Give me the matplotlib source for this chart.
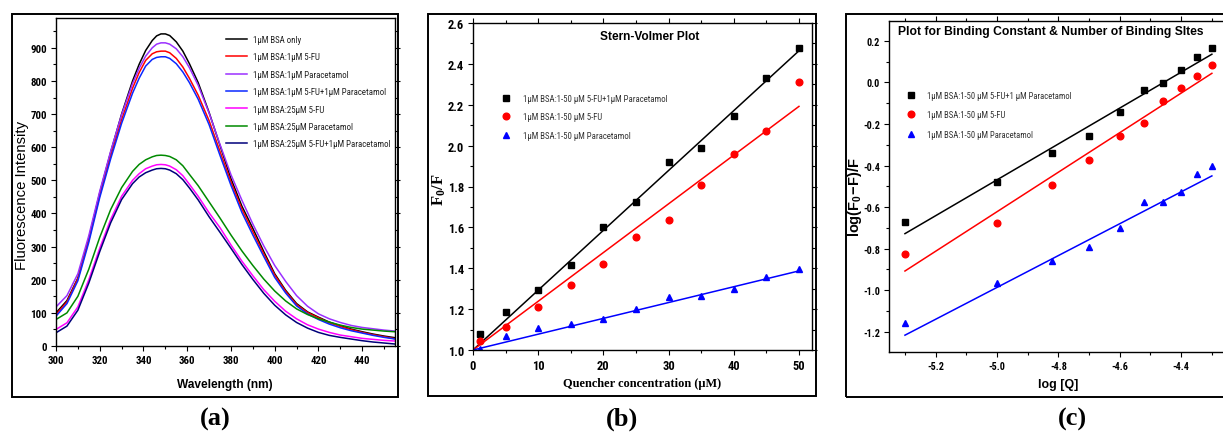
import matplotlib
matplotlib.use("Agg")
import matplotlib.pyplot as plt
from matplotlib.patches import Rectangle
from matplotlib.ticker import MultipleLocator, FormatStrFormatter
import matplotlib.font_manager as fm

# ---------------- DATA ----------------
# Panel (a): fluorescence emission spectra
wavelength = [300, 305, 310, 315, 320, 325, 330, 335, 338, 341, 344, 346, 348, 350,
              352, 355, 358, 361, 365, 370, 375, 380, 385, 390, 395, 400, 405, 410,
              415, 420, 425, 430, 435, 440, 445, 450, 455]
bsa_only = [100, 137, 205, 325, 462, 585, 700, 800, 850, 892, 922, 936, 942, 942,
            937, 918, 890, 852, 795, 705, 605, 505, 422, 355, 285, 218, 168, 128,
            103, 87, 72, 61, 51, 43, 36, 30, 25]
bsa_5fu_1 = [95, 133, 203, 320, 455, 573, 683, 778, 825, 862, 882, 888, 890, 890,
             885, 868, 842, 808, 757, 680, 587, 495, 413, 345, 278, 214, 165, 125,
             101, 85, 70, 59, 49, 41, 34, 28, 22]
bsa_para_1 = [118, 152, 218, 333, 467, 588, 698, 792, 838, 875, 900, 911, 915, 915,
              911, 897, 873, 840, 787, 703, 608, 517, 440, 368, 302, 243, 195, 152,
              120, 97, 82, 71, 62, 56, 52, 48, 45]
bsa_5fu_para_1 = [90, 128, 197, 313, 448, 565, 672, 763, 808, 845, 865, 871, 873, 873,
                  868, 852, 827, 795, 745, 668, 575, 485, 403, 335, 270, 207, 160, 121,
                  97, 80, 66, 55, 46, 39, 32, 26, 21]
bsa_5fu_25 = [50, 70, 118, 200, 295, 382, 452, 500, 520, 535, 543, 547, 548, 547,
              543, 532, 514, 488, 452, 402, 357, 305, 256, 212, 170, 135, 105, 82,
              64, 51, 41, 33, 28, 23, 20, 17, 15]
bsa_para_25 = [80, 100, 150, 232, 328, 412, 478, 527, 548, 562, 571, 575, 576, 575,
               572, 562, 544, 518, 484, 435, 386, 335, 287, 243, 202, 166, 136, 112,
               95, 82, 72, 63, 56, 51, 48, 45, 43]
bsa_5fu25_para1 = [40, 60, 108, 190, 285, 372, 442, 490, 510, 523, 531, 535, 536, 535,
                   531, 520, 502, 477, 441, 390, 343, 295, 246, 201, 159, 123, 94, 71,
                   54, 41, 32, 26, 21, 16, 12, 9, 6]
spectra_labels = ["1μM BSA only", "1μM BSA:1μM 5-FU", "1μM BSA:1μM Paracetamol",
                  "1μM BSA:1μM 5-FU+1μM Paracetamol", "1μM BSA:25μM 5-FU",
                  "1μM BSA:25μM Paracetamol", "1μM BSA:25μM 5-FU+1μM Paracetamol"]

# Panel (b): Stern-Volmer
quencher = [1, 5, 10, 15, 20, 25, 30, 35, 40, 45, 50]
sv_combo = [1.077, 1.186, 1.294, 1.416, 1.602, 1.725, 1.922, 1.988, 2.146, 2.329, 2.476]
sv_5fu = [1.044, 1.114, 1.209, 1.317, 1.423, 1.552, 1.637, 1.808, 1.958, 2.074, 2.309]
sv_para = [1.006, 1.069, 1.109, 1.126, 1.150, 1.199, 1.261, 1.264, 1.297, 1.359, 1.395]
sv_fit_x = [0, 50]
sv_fit_combo = [1.0, 2.464]
sv_fit_5fu = [1.0, 2.192]
sv_fit_para = [1.0, 1.387]
sv_labels = ["1μM BSA:1-50 μM 5-FU+1μM Paracetamol", "1μM BSA:1-50 μM 5-FU",
             "1μM BSA:1-50 μM Paracetamol"]

# Panel (c): double log plot
logq = [-5.30, -5.00, -4.82, -4.70, -4.60, -4.52, -4.46, -4.40, -4.35, -4.30]
dl_combo = [-0.673, -0.479, -0.338, -0.256, -0.140, -0.034, -0.004, 0.060, 0.123, 0.168]
dl_5fu = [-0.826, -0.675, -0.495, -0.371, -0.256, -0.195, -0.091, -0.026, 0.031, 0.086]
dl_para = [-1.156, -0.967, -0.861, -0.790, -0.700, -0.578, -0.575, -0.526, -0.440, -0.402]
dl_fit_x = [-5.30, -4.30]
dl_fit_combo = [-0.728, 0.136]
dl_fit_5fu = [-0.908, 0.044]
dl_fit_para = [-1.217, -0.450]
dl_labels = ["1μM BSA:1-50 μM 5-FU+1 μM Paracetamol", "1μM BSA:1-50 μM 5-FU",
             "1μM BSA:1-50 μM Paracetamol"]

# ---------------- FONTS ----------------
def find_narrow(bold):
    prefs = ["robotocondensed", "liberationsansnarrow", "notosanscondensed",
             "opensanscondensed", "opensans_condensed", "dejavusanscondensed",
             "condensed", "narrow"]
    files = [f.fname for f in fm.fontManager.ttflist]
    bad = ("italic", "oblique", "light", "thin", "medium", "semi", "extra", "black")
    for p in prefs:
        for fn in files:
            low = fn.lower().replace(" ", "").split("/")[-1]
            if p in low and not any(b in low for b in bad):
                isb = "bold" in low
                if bold == isb:
                    return fn
    return None


NB_FILE = find_narrow(True)
NR_FILE = find_narrow(False)


def fp_narrow(size, bold=False):
    fn = NB_FILE if bold else NR_FILE
    if fn:
        return fm.FontProperties(fname=fn, size=size)
    return fm.FontProperties(family="Liberation Sans", size=size,
                             weight="bold" if bold else "normal")


plt.rcParams["axes.unicode_minus"] = False
plt.rcParams["mathtext.fontset"] = "custom"
plt.rcParams["mathtext.bf"] = "Liberation Serif:bold"
plt.rcParams["mathtext.rm"] = "Liberation Serif"
plt.rcParams["mathtext.sf"] = "Liberation Sans:bold"

W, H = 1223, 435
fig = plt.figure(figsize=(W / 100, H / 100), dpi=100)
REND = fig.canvas.get_renderer()


def fx(x):
    return x / W


def fy(y):
    return 1 - y / H


def text_extent(s, fp):
    t = fig.text(0.5, 0.5, s, fontproperties=fp)
    e = t.get_window_extent(REND)
    t.remove()
    return e.width, e.height


def fit_size(s, target_w, fpfunc, lo=4.0, hi=30.0):
    w10, _ = text_extent(s, fpfunc(10.0))
    return max(lo, min(hi, 10.0 * target_w / w10))


def plain_fp(family, weight="normal"):
    return lambda size: fm.FontProperties(family=family, weight=weight, size=size)


def add_ax(l, t, r, b):
    return fig.add_axes([fx(l), fy(b), (r - l) / W, (b - t) / H])


def frame(l, t, r, b):
    fig.add_artist(Rectangle((fx(l), fy(b)), (r - l) / W, (b - t) / H,
                             transform=fig.transFigure, fill=False,
                             lw=1.4, ec="black", clip_on=False))


def style_axes(ax, xmaj, xmin, ymaj, ymin, fmt=None, top=True):
    ax.xaxis.set_major_locator(MultipleLocator(xmaj))
    ax.xaxis.set_minor_locator(MultipleLocator(xmin))
    ax.yaxis.set_major_locator(MultipleLocator(ymaj))
    ax.yaxis.set_minor_locator(MultipleLocator(ymin))
    if fmt:
        ax.xaxis.set_major_formatter(FormatStrFormatter(fmt[0]))
        ax.yaxis.set_major_formatter(FormatStrFormatter(fmt[1]))
    ax.tick_params(which="both", direction="out", top=top, right=True,
                   width=0.8, pad=3)
    ax.tick_params(which="major", length=3.5)
    ax.tick_params(which="minor", length=2)
    for s in ax.spines.values():
        s.set_linewidth(1.0)


def finish_ticks(ax, sample, target_w):
    size = fit_size(sample, target_w, lambda s: fp_narrow(s, True))
    size = min(size, 9)
    fp = fp_narrow(size, bold=True)
    for lab in ax.get_xticklabels() + ax.get_yticklabels():
        lab.set_fontproperties(fp)


def place_labels(ax, xlab_xy, ylab_xy):
    ax.xaxis.set_label_coords(fx(xlab_xy[0]), fy(xlab_xy[1]), transform=fig.transFigure)
    ax.yaxis.set_label_coords(fx(ylab_xy[0]), fy(ylab_xy[1]), transform=fig.transFigure)
    ax.xaxis.label.set_va("center")
    ax.yaxis.label.set_va("center")


def make_legend(ax, handles, labels, first_y, hand_x0, text_x, pitch, long_label,
                long_w, handlelength, color):
    size = fit_size(long_label, long_w, lambda s: fp_narrow(s))
    fp = fp_narrow(size)
    fs_px = size * 100 / 72
    _, th = text_extent("1μM BSA:", fp)
    hl_px = handlelength * fs_px
    leg = ax.legend(handles, labels, loc="upper left",
                    bbox_to_anchor=(fx(hand_x0), fy(first_y - th / 2)),
                    bbox_transform=fig.transFigure, frameon=False, borderpad=0,
                    borderaxespad=0, handlelength=handlelength,
                    handletextpad=(text_x - hand_x0 - hl_px) / fs_px,
                    labelspacing=max(0.0, (pitch - th) / fs_px), numpoints=1,
                    prop=fp)
    for t in leg.get_texts():
        t.set_color(color)
    return leg


# ---------------- PANEL (a) ----------------
frame(12, 15, 398, 398)
axa = add_ax(56, 19, 395, 347)
cols_a = ["#000000", "#ff0000", "#9b30ff", "#0a28ff", "#ff00ff", "#008a00", "#00007a"]
series_a = [bsa_only, bsa_5fu_1, bsa_para_1, bsa_5fu_para_1, bsa_5fu_25,
            bsa_para_25, bsa_5fu25_para1]
handles_a = []
for ys, c, lab in zip(series_a, cols_a, spectra_labels):
    h, = axa.plot(wavelength, ys, color=c, lw=1.1, label=lab)
    handles_a.append(h)
axa.set_xlim(300, 455)
axa.set_ylim(0, 990)
style_axes(axa, 20, 10, 100, 50, top=False)
axa.set_xlabel("Wavelength (nm)",
               fontsize=fit_size("Wavelength (nm)", 96, plain_fp("Liberation Sans", "bold")),
               fontweight="bold", family="Liberation Sans")
axa.set_ylabel("Fluorescence Intensity",
               fontsize=fit_size("Fluorescence Intensity", 150, plain_fp("Liberation Sans")),
               family="Liberation Sans")
place_labels(axa, (225, 385), (22, 195))
make_legend(axa, handles_a, spectra_labels, 40.5, 226, 253, 17.4,
            spectra_labels[-1], 139, 2.4, "#222222")
finish_ticks(axa, "900", 16.5)

# ---------------- PANEL (b) ----------------
frame(428, 15, 816, 397)
axb = add_ax(473, 24, 812, 351)
axb.plot(sv_fit_x, sv_fit_combo, color="black", lw=1.1)
axb.plot(sv_fit_x, sv_fit_5fu, color="#ff0000", lw=1.1)
axb.plot(sv_fit_x, sv_fit_para, color="#0000ff", lw=1.1)
hb1, = axb.plot(quencher, sv_combo, "s", color="black", ms=4.5, ls="none")
hb2, = axb.plot(quencher, sv_5fu, "o", color="#ff0000", ms=4.8, ls="none")
hb3, = axb.plot(quencher, sv_para, "^", color="#0000ff", ms=5, ls="none")
axb.set_xlim(0, 52)
axb.set_ylim(1.0, 2.6)
style_axes(axb, 10, 5, 0.2, 0.1, fmt=("%d", "%.1f"))
qlab = "Quencher concentration (μM)"
axb.set_xlabel(qlab, fontsize=fit_size(qlab, 159, plain_fp("Liberation Serif", "bold")),
               fontweight="bold", family="Liberation Serif")
axb.set_ylabel(r"$\mathbf{F_0/F}$", fontsize=12)
place_labels(axb, (642, 384), (439, 190))
svt = "Stern-Volmer Plot"
axb.text(fx(650), fy(37), svt, transform=fig.transFigure, ha="center", va="center",
         fontsize=fit_size(svt, 100, plain_fp("Liberation Sans", "bold")),
         fontweight="bold", family="Liberation Sans")
make_legend(axb, [hb1, hb2, hb3], sv_labels, 99.5, 502, 523, 18.5,
            sv_labels[0], 144, 1.0, "#333333")
finish_ticks(axb, "2.6", 16.5)

# ---------------- PANEL (c) ----------------
frame(846, 15, 1240, 398)
axc = add_ax(889, 22, 1226, 353)
axc.plot(dl_fit_x, dl_fit_combo, color="black", lw=1.1)
axc.plot(dl_fit_x, dl_fit_5fu, color="#ff0000", lw=1.1)
axc.plot(dl_fit_x, dl_fit_para, color="#0000ff", lw=1.1)
hc1, = axc.plot(logq, dl_combo, "s", color="black", ms=4.5, ls="none")
hc2, = axc.plot(logq, dl_5fu, "o", color="#ff0000", ms=4.8, ls="none")
hc3, = axc.plot(logq, dl_para, "^", color="#0000ff", ms=5, ls="none")
axc.set_xlim(-5.352, -4.254)
axc.set_ylim(-1.298, 0.296)
style_axes(axc, 0.2, 0.1, 0.2, 0.1, fmt=("%.1f", "%.1f"))
axc.set_xlabel("log [Q]",
               fontsize=fit_size("log [Q]", 40, plain_fp("Liberation Sans", "bold")),
               fontweight="bold", family="Liberation Sans")
axc.set_ylabel(r"$\mathsf{log(F_0\!-\!F)/F}$", fontsize=10.5)
place_labels(axc, (1058, 385), (855, 197))
ct = "Plot for Binding Constant & Number of Binding SItes"
axc.text(fx(1051), fy(32), ct, transform=fig.transFigure, ha="center", va="center",
         fontsize=fit_size(ct, 304, plain_fp("Liberation Sans", "bold")),
         fontweight="bold", family="Liberation Sans")
make_legend(axc, [hc1, hc2, hc3], dl_labels, 96.5, 907, 927, 19.3,
            dl_labels[0], 145, 1.0, "#333333")
finish_ticks(axc, "-0.4", 17)

# ---------------- panel letters ----------------
for x, s in [(215, "(a)"), (622, "(b)"), (1072, "(c)")]:
    fig.text(fx(x), fy(419), s, ha="center", va="center", fontsize=19,
             fontweight="bold", family="Liberation Serif")

fig.savefig("out.png", dpi=100)
